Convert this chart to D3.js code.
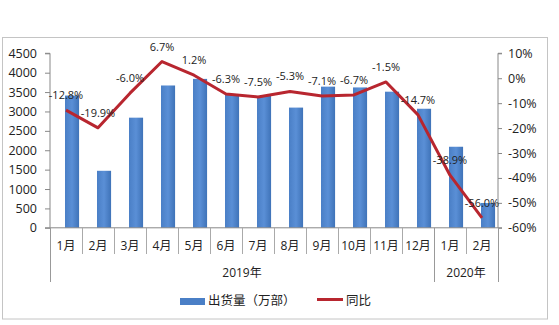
<!DOCTYPE html>
<html><head><meta charset="utf-8">
<script src="https://cdn.jsdelivr.net/npm/d3@7/dist/d3.min.js"></script>
<style>
body{margin:0;background:#fff;}
text{font-family:"Open Sans","Noto Sans CJK SC",sans-serif;}
</style></head>
<body><svg id="c" width="559" height="325"></svg>
<script>
const months = ["1月","2月","3月","4月","5月","6月","7月","8月","9月","10月","11月","12月","1月","2月"];
const years = [{label:"2019年", n:12},{label:"2020年", n:2}];
const shipments = [3410,1470,2840,3670,3840,3450,3400,3100,3640,3620,3510,3070,2090,640];
const yoy = [-12.8,-19.9,-6.0,6.7,1.2,-6.3,-7.5,-5.3,-7.1,-6.7,-1.5,-14.7,-38.9,-56.0];
const leftTicks = [0,500,1000,1500,2000,2500,3000,3500,4000,4500];
const rightTicks = [10,0,-10,-20,-30,-40,-50,-60];
const legendLabels = ["出货量（万部）","同比"];

const svg = d3.select("#c");
const L=50, R=498, T=53.3, B=227.8;
const idx = months.map((d,i)=>i);
const x = d3.scaleBand().domain(idx).range([L,R]);
const bw = x.bandwidth();
const yL = d3.scaleLinear().domain([0,4500]).range([B,T]);
const yR = d3.scaleLinear().domain([-60,10]).range([B,T]);

// border
svg.append("rect").attr("x",2.5).attr("y",37.5).attr("width",545).attr("height",281.5)
  .attr("fill","none").attr("stroke","#c4c4c4").attr("stroke-width",1);

const grad = svg.append("defs").append("linearGradient").attr("id","bg").attr("x1","0").attr("x2","1");
grad.append("stop").attr("offset","0").attr("stop-color","#4a7fc6");
grad.append("stop").attr("offset","0.5").attr("stop-color","#5a8fd6");
grad.append("stop").attr("offset","1").attr("stop-color","#3f73b8");

// bars
svg.append("g").selectAll("rect").data(shipments).join("rect")
  .attr("x",(d,i)=>x(i)+bw/2-1).attr("width",bw*0.44)
  .attr("y",d=>yL(d)).attr("height",d=>B-yL(d))
  .attr("fill","url(#bg)");

// left axis
const gl = svg.append("g").attr("transform",`translate(${L},0)`)
  .call(d3.axisLeft(yL).tickValues(leftTicks).tickSize(5).tickPadding(8).tickFormat(d3.format("d")));
gl.select(".domain").attr("stroke","#888").attr("d",`M-5,${T}H0V${B}H-5`);
gl.selectAll(".tick line").attr("stroke","#888");
gl.selectAll("text").attr("font-size",12.5).attr("fill","#222");

// right axis
const gr = svg.append("g").attr("transform",`translate(${R},0)`)
  .call(d3.axisRight(yR).tickValues(rightTicks).tickSize(4).tickPadding(6).tickFormat(d=>d+"%"));
gr.select(".domain").attr("stroke","#888").attr("d",`M4,${T}H0V${B}H4`);
gr.selectAll(".tick line").attr("stroke","#888");
gr.selectAll("text").attr("font-size",12.5).attr("fill","#222");

// category axis
const ga = svg.append("g");
ga.append("line").attr("x1",L).attr("x2",R).attr("y1",B).attr("y2",B).attr("stroke","#888");
idx.forEach(i=>{
  ga.append("line").attr("x1",x(i)+0.5).attr("x2",x(i)+0.5).attr("y1",B).attr("y2",254).attr("stroke","#aaa");
});
ga.selectAll("text.m").data(months).join("text").attr("class","m")
  .attr("x",(d,i)=>x(i)+bw/2).attr("y",249.5).attr("text-anchor","middle")
  .attr("font-size",12).attr("fill","#222").text(d=>d);
let start=0;
const bounds=[x(0)];
years.forEach(yv=>{
  const x0 = x(start), x1 = start+yv.n<months.length ? x(start+yv.n) : R;
  bounds.push(x1);
  svg.append("text").attr("x",(x0+x1)/2).attr("y",277).attr("text-anchor","middle")
    .attr("font-size",12).attr("fill","#222").text(yv.label);
  start+=yv.n;
});
bounds.forEach(b=>{
  ga.append("line").attr("x1",b+0.5).attr("x2",b+0.5).attr("y1",B).attr("y2",282).attr("stroke","#999");
});

// line
const line = d3.line().x((d,i)=>x(i)+bw/2).y(d=>yR(d));
svg.append("path").datum(yoy).attr("d",line).attr("fill","none")
  .attr("stroke","#b8262f").attr("stroke-width",3).attr("stroke-linejoin","round");

// data labels
svg.append("g").selectAll("text").data(yoy).join("text")
  .attr("x",(d,i)=>x(i)+bw/2).attr("y",d=>yR(d)-11)
  .attr("text-anchor","middle").attr("font-size",11).attr("fill","#222")
  .text(d=>d.toFixed(1)+"%");

// legend
svg.append("rect").attr("x",180).attr("y",298).attr("width",25).attr("height",7).attr("fill","#4a7fc6");
svg.append("text").attr("x",208).attr("y",305).attr("font-size",12.5).attr("fill","#222")
  .attr("font-family","Noto Sans CJK SC").text(legendLabels[0]);
svg.append("line").attr("x1",317).attr("x2",343).attr("y1",299.5).attr("y2",299.5)
  .attr("stroke","#b8262f").attr("stroke-width",3);
svg.append("text").attr("x",346).attr("y",305).attr("font-size",12.5).attr("fill","#222")
  .attr("font-family","Noto Sans CJK SC").text(legendLabels[1]);
</script></body></html>
